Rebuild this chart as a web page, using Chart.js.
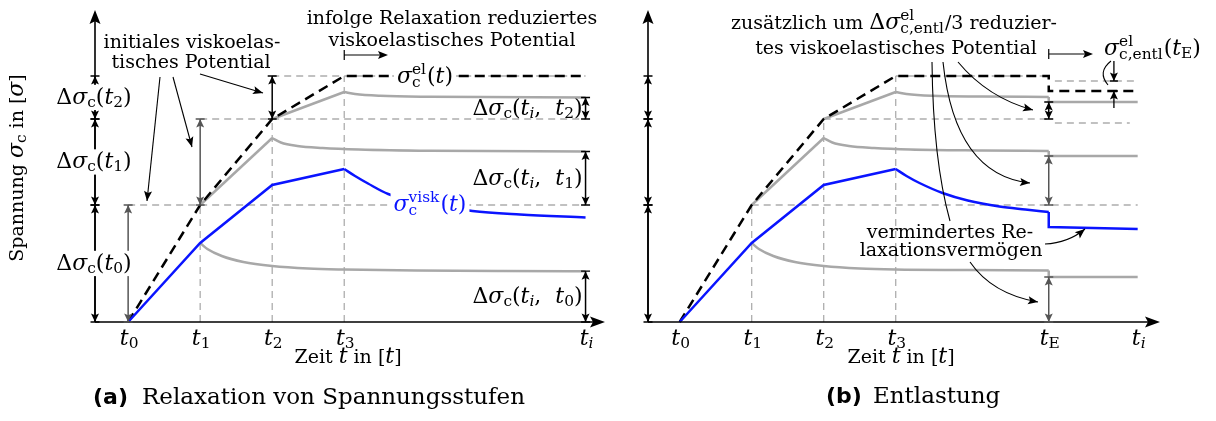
<!DOCTYPE html>
<html lang="de">
<head>
<meta charset="utf-8">
<title>Relaxation von Spannungsstufen / Entlastung</title>
<script src="https://cdn.jsdelivr.net/npm/chart.js@4.4.1/dist/chart.umd.min.js"></script>
<style>
  body { margin: 0; background: #fff; }
  #wrap { position: relative; width: 1216px; height: 421px; }
  #wrap canvas { position: absolute; left: 0; top: 0; }
</style>
</head>
<body>
<div id="wrap">
  <canvas id="relax" width="1216" height="421"></canvas>
  <canvas id="unload" width="1216" height="421"></canvas>
</div>
<script>
// ---- data ---------------------------------------------------------------
// time: t0 = 0, one unit per load step
const stepTimes = [0, 1, 2, 3];
const tEndA = 6.35;          // t_i in (a)
const tUnload = 5.125;       // t_E in (b)
const tEndB = 6.36;          // t_i in (b)
const tickLabelsA = ['0', '1', '2', '3', 'i'];
const tickLabelsB = ['0', '1', '2', '3', 'E', 'i'];

// stress at the step times
const elasticSteps = [0, 11.7, 20.3, 24.6];   // sigma_c^el
const viscSteps = [0, 7.9, 13.7, 15.3];       // sigma_c^visk

// (a) relaxation after the last step
const viscDecayA = [[3, 15.3], [3.15, 14.6], [3.33, 13.85], [3.61, 12.8], [4.1, 11.9], [4.78, 11.1], [5.44, 10.75], [6.35, 10.45]];
// (a) relaxation of the single stress steps
const relaxA1 = [[1, 7.9], [1.1, 7.3], [1.3, 6.6], [1.6, 6.0], [2, 5.6], [2.5, 5.35], [3, 5.25], [4, 5.15], [5.2, 5.1], [6.35, 5.08]];
const relaxRiseA2 = [[1, 11.7], [2, 18.4]];
const relaxA2 = [[2, 18.4], [2.12, 17.95], [2.35, 17.6], [2.7, 17.4], [3.2, 17.25], [4.2, 17.12], [6.35, 17.05]];
const relaxRiseA3 = [[2, 20.3], [3, 23.0]];
const relaxA3 = [[3, 23.0], [3.15, 22.8], [3.5, 22.62], [4.2, 22.52], [6.35, 22.45]];
const relaxedA = [5.08, 17.05, 22.45];        // levels at t_i

// (b) unloading at t_E
const viscDecayB = [[3, 15.3], [3.15, 14.6], [3.33, 13.9], [3.65, 12.9], [4.0, 12.15], [4.44, 11.55], [4.8, 11.25], [5.125, 11.0]];
const viscStepB = [[5.125, 11.0], [5.125, 9.5], [6.36, 9.3]];
const relaxB1 = [[1, 7.9], [1.1, 7.3], [1.3, 6.6], [1.6, 6.0], [2, 5.6], [2.5, 5.35], [3, 5.25], [4, 5.2], [5.125, 5.15]];
const relaxStepB1 = [[5.125, 5.15], [5.125, 4.5], [6.36, 4.5]];
const relaxRiseB2 = [[1, 11.7], [2, 18.4]];
const relaxB2 = [[2, 18.4], [2.12, 17.95], [2.35, 17.6], [2.7, 17.4], [3.2, 17.25], [4.2, 17.15], [5.125, 17.1]];
const relaxStepB2 = [[5.125, 17.1], [5.125, 16.6], [6.36, 16.6]];
const relaxRiseB3 = [[2, 20.3], [3, 23.0]];
const relaxB3 = [[3, 23.0], [3.15, 22.8], [3.5, 22.62], [4.2, 22.55], [5.125, 22.5]];
const relaxStepB3 = [[5.125, 22.5], [5.125, 22.0], [6.36, 22.0]];
const unloadedB = [4.5, 16.6, 22.0];          // levels right after t_E
const elasticAfterUnload = 23.1;
const entlLevels = [24.1, 19.9];              // reduced potential after t_E
const entlEnds = [6.36, 6.25];
const entlMarkTime = 6.03;

const Y_TOP = 31.2;
const xRangeA = [-0.46, 6.62];
const xRangeB = [-0.44, 6.67];

// ---- styles ---------------------------------------------------------------
const FS = 19;        // text size
const MS = 22;        // formula size
const SERIF = '"DejaVu Serif"';
const INK = '#000';
const DIM_GREY = '#555';
const BLUE = '#0a14ff';
const GREY = '#a8a8a8';
const GUIDE = '#adadad';

const pts = arr => arr.map(([x, y]) => ({ x, y }));

function curve(points, color, width, smooth = false, dash = []) {
  return {
    data: pts(points), borderColor: color, borderWidth: width, borderDash: dash,
    pointRadius: 0, fill: false, clip: false,
    tension: smooth ? 0.4 : 0,
    cubicInterpolationMode: smooth ? 'monotone' : 'default'
  };
}

// ---- text with formulas ---------------------------------------------------------
// kinds: r = text, m = upright formula, i = italic formula,
// sb/sbi = subscript (upright/italic), sp = superscript, st = stacked "sup|sub"
function tokenFont(kind, size, msize) {
  let s = msize;
  if (kind === 'r') s = size;
  else if (kind !== 'm' && kind !== 'i') s = msize * 0.7;
  const it = (kind === 'i' || kind === 'sbi') ? 'italic ' : '';
  return `${it}${s}px ${SERIF}`;
}
function tokenWidth(ctx, [text, kind], size, msize) {
  ctx.font = tokenFont(kind, size, msize);
  if (kind === 'st') {
    const [up, down] = text.split('|');
    return Math.max(ctx.measureText(up).width, ctx.measureText(down).width) + 1;
  }
  return ctx.measureText(text).width;
}
function drawRich(ctx, toks, x, y, opt = {}) {
  const size = opt.size || FS, msize = opt.math || MS;
  const widths = toks.map(t => tokenWidth(ctx, t, size, msize));
  const total = widths.reduce((a, b) => a + b, 0);
  let cx = opt.align === 'left' ? x : opt.align === 'right' ? x - total : x - total / 2;
  if (opt.bg) {
    ctx.fillStyle = '#fff';
    ctx.fillRect(cx - 3, y - msize * 0.85, total + 6, msize * 1.15);
  }
  ctx.fillStyle = opt.color || INK;
  ctx.textAlign = 'left';
  ctx.textBaseline = 'alphabetic';
  toks.forEach(([text, kind], i) => {
    ctx.font = tokenFont(kind, size, msize);
    if (kind === 'st') {
      const [up, down] = text.split('|');
      ctx.fillText(up, cx, y - msize * 0.4);
      ctx.fillText(down, cx, y + msize * 0.2);
    } else if (kind === 'sb' || kind === 'sbi') {
      ctx.fillText(text, cx, y + msize * 0.15);
    } else if (kind === 'sp') {
      ctx.fillText(text, cx, y - msize * 0.4);
    } else {
      ctx.fillText(text, cx, y);
    }
    cx += widths[i];
  });
}
const plain = s => [[s, 'r']];
const deltaStep = k => [['Δ', 'm'], ['σ', 'i'], ['c', 'sb'], ['(', 'm'], ['t', 'i'], [k, 'sb'], [')', 'm']];
const deltaRelax = k => [['Δ', 'm'], ['σ', 'i'], ['c', 'sb'], ['(', 'm'], ['t', 'i'], ['i', 'sbi'], [',  ', 'm'], ['t', 'i'], [k, 'sb'], [')', 'm']];
const tickTok = s => [['t', 'i'], [s, s === 'i' ? 'sbi' : 'sb']];

// ---- arrows -------------------------------------------------------------------
function arrowHead(ctx, x, y, ang, len = 8.5, hw = 4) {
  const c = Math.cos(ang), s = Math.sin(ang);
  ctx.beginPath();
  ctx.moveTo(x, y);
  ctx.lineTo(x - len * c + hw * s, y - len * s - hw * c);
  ctx.lineTo(x - len * c * 0.8, y - len * s * 0.8);
  ctx.lineTo(x - len * c - hw * s, y - len * s + hw * c);
  ctx.closePath();
  ctx.fill();
}
function dimLine(ctx, x, ya, yb, color) {
  ctx.strokeStyle = color; ctx.fillStyle = color; ctx.lineWidth = 1.5;
  ctx.setLineDash([]);
  ctx.beginPath(); ctx.moveTo(x, ya); ctx.lineTo(x, yb); ctx.stroke();
  arrowHead(ctx, x, ya, Math.atan2(ya - yb, 0));
  arrowHead(ctx, x, yb, Math.atan2(yb - ya, 0));
  ctx.lineWidth = 1.3;
  ctx.beginPath();
  ctx.moveTo(x - 4.5, ya); ctx.lineTo(x + 4.5, ya);
  ctx.moveTo(x - 4.5, yb); ctx.lineTo(x + 4.5, yb);
  ctx.stroke();
}
function pointer(ctx, x1, y1, x2, y2, head = true) {
  ctx.strokeStyle = INK; ctx.fillStyle = INK; ctx.lineWidth = 1.1; ctx.setLineDash([]);
  ctx.beginPath(); ctx.moveTo(x1, y1); ctx.lineTo(x2, y2); ctx.stroke();
  if (head) arrowHead(ctx, x2, y2, Math.atan2(y2 - y1, x2 - x1), 10, 4);
}
function bentPointer(ctx, x1, y1, cx, cy, x2, y2, head = true) {
  ctx.strokeStyle = INK; ctx.fillStyle = INK; ctx.lineWidth = 1.1; ctx.setLineDash([]);
  ctx.beginPath(); ctx.moveTo(x1, y1); ctx.quadraticCurveTo(cx, cy, x2, y2); ctx.stroke();
  if (head) arrowHead(ctx, x2, y2, Math.atan2(y2 - cy, x2 - cx), 10, 4);
}
function barArrow(ctx, x1, x2, y) {
  ctx.strokeStyle = INK; ctx.fillStyle = INK; ctx.lineWidth = 1.2; ctx.setLineDash([]);
  ctx.beginPath();
  ctx.moveTo(x1, y - 5); ctx.lineTo(x1, y + 5);
  ctx.moveTo(x1, y); ctx.lineTo(x2 - 4, y);
  ctx.stroke();
  arrowHead(ctx, x2, y, 0, 10, 4);
}
function drawAxes(chart) {
  const ctx = chart.ctx, a = chart.chartArea;
  ctx.strokeStyle = INK; ctx.fillStyle = INK; ctx.lineWidth = 1.6; ctx.setLineDash([]);
  ctx.beginPath();
  ctx.moveTo(a.left, a.bottom); ctx.lineTo(a.left, a.top + 8);
  ctx.moveTo(a.left, a.bottom); ctx.lineTo(a.right - 8, a.bottom);
  ctx.stroke();
  arrowHead(ctx, a.left, a.top, -Math.PI / 2, 14, 5.5);
  arrowHead(ctx, a.right, a.bottom, 0, 15, 5.5);
}
function drawStressAxisSteps(chart) {
  const ctx = chart.ctx, Y = v => chart.scales.y.getPixelForValue(v);
  for (let k = 1; k < elasticSteps.length; k++) {
    dimLine(ctx, chart.chartArea.left, Y(elasticSteps[k - 1]), Y(elasticSteps[k]), INK);
  }
}

function baseOptions(range, padLeft, padRight, notes) {
  return {
    type: 'line',
    options: {
      responsive: false, animation: false, devicePixelRatio: 1,
      layout: { padding: { left: padLeft, right: padRight, top: 10, bottom: 99 } },
      plugins: { legend: { display: false }, tooltip: { enabled: false } },
      scales: {
        x: { type: 'linear', display: false, min: range[0], max: range[1] },
        y: { type: 'linear', display: false, min: 0, max: Y_TOP }
      }
    },
    plugins: [notes]
  };
}

// ---- (a) Relaxation von Spannungsstufen ----------------------------------------
const elasticA = stepTimes.map((t, i) => [t, elasticSteps[i]]).concat([[tEndA, elasticSteps[3]]]);
const viscRise = stepTimes.map((t, i) => [t, viscSteps[i]]);
const guidesA = [
  ...elasticSteps.slice(1).map((v, k) => [[stepTimes[k], v], [tEndA, v]]),
  ...stepTimes.slice(1).map((t, k) => [[t, 0], [t, elasticSteps[k + 1]]])
];

const relaxNotes = {
  id: 'relaxNotes',
  afterDatasetsDraw(chart) {
    const ctx = chart.ctx;
    const X = v => chart.scales.x.getPixelForValue(v), Y = v => chart.scales.y.getPixelForValue(v);
    ctx.save();
    drawAxes(chart);
    drawStressAxisSteps(chart);
    dimLine(ctx, X(stepTimes[0]), Y(0), Y(elasticSteps[1]), DIM_GREY);
    dimLine(ctx, X(stepTimes[1]), Y(elasticSteps[1]), Y(elasticSteps[2]), DIM_GREY);
    dimLine(ctx, X(stepTimes[2]), Y(elasticSteps[2]), Y(elasticSteps[3]), INK);
    relaxedA.forEach((v, k) => dimLine(ctx, X(tEndA), Y(v), Y(elasticSteps[k]), INK));

    // step labels on the stress axis
    for (let k = 0; k < 3; k++) {
      const mid = (Y(elasticSteps[k]) + Y(elasticSteps[k + 1])) / 2;
      drawRich(ctx, deltaStep(String(k)), chart.chartArea.left - 1, mid + 6, { bg: true });
    }
    // remaining potential at t_i
    for (let k = 0; k < 3; k++) {
      const mid = (Y(relaxedA[k]) + Y(elasticSteps[k])) / 2;
      drawRich(ctx, deltaRelax(String(k)), X(tEndA) - 3, mid + 6.5, { align: 'right' });
    }
    drawRich(ctx, [['σ', 'i'], ['el|c', 'st'], ['(', 'm'], ['t', 'i'], [')', 'm']], 425, 83, { bg: true });
    drawRich(ctx, [['σ', 'i'], ['visk|c', 'st'], ['(', 'm'], ['t', 'i'], [')', 'm']], 430, 211, { bg: true, color: BLUE });

    drawRich(ctx, plain('initiales viskoelas-'), 192, 48);
    drawRich(ctx, plain('tisches Potential'), 191, 68);
    pointer(ctx, 160, 77, 147, 201);
    pointer(ctx, 173, 77, 192, 147);
    pointer(ctx, 200, 74, 263, 93);

    drawRich(ctx, plain('infolge Relaxation reduziertes'), 452, 24);
    drawRich(ctx, plain('viskoelastisches Potential'), 452, 46);
    barArrow(ctx, X(stepTimes[3]), 388, 55);

    stepTimes.concat([tEndA]).forEach((t, i) => drawRich(ctx, tickTok(tickLabelsA[i]), X(t) + 1, 345));
    drawRich(ctx, [['Zeit ', 'r'], ['t', 'i'], [' in [', 'r'], ['t', 'i'], [']', 'r']], 348, 363);
    ctx.save();
    ctx.translate(23, 168);
    ctx.rotate(-Math.PI / 2);
    drawRich(ctx, [['Spannung ', 'r'], ['σ', 'i'], ['c', 'sb'], [' in [', 'r'], ['σ', 'i'], [']', 'r']], 0, 0);
    ctx.restore();

    ctx.fillStyle = INK; ctx.textBaseline = 'alphabetic'; ctx.textAlign = 'left';
    ctx.font = 'bold 22px "DejaVu Sans"';
    ctx.fillText('(a)', 93, 404);
    ctx.font = `23px ${SERIF}`;
    ctx.fillText('Relaxation von Spannungsstufen', 142, 404);
    ctx.restore();
  }
};

const cfgA = baseOptions(xRangeA, 95, 611, relaxNotes);
cfgA.data = {
  datasets: [
    curve(viscRise, BLUE, 2.5),
    curve(viscDecayA, BLUE, 2.5, true),
    curve(elasticA, INK, 2.5, false, [10, 6]),
    curve(relaxA1, GREY, 2.5, true),
    curve(relaxRiseA2, GREY, 2.5), curve(relaxA2, GREY, 2.5, true),
    curve(relaxRiseA3, GREY, 2.5), curve(relaxA3, GREY, 2.5, true),
    ...guidesA.map(g => curve(g, GUIDE, 1.3, false, [7, 5]))
  ]
};
new Chart(document.getElementById('relax'), cfgA);

// ---- (b) Entlastung ---------------------------------------------------------------
const elasticB = stepTimes.map((t, i) => [t, elasticSteps[i]])
  .concat([[tUnload, elasticSteps[3]], [tUnload, elasticAfterUnload], [tEndB, elasticAfterUnload]]);
const guidesB = [
  ...elasticSteps.slice(1).map((v, k) => [[stepTimes[k + 1], v], [k === 0 ? tEndB : tUnload, v]]),
  ...stepTimes.slice(1).map((t, k) => [[t, 0], [t, elasticSteps[k + 1]]]),
  ...entlLevels.map((v, k) => [[5.21, v], [entlEnds[k], v]])
];

const unloadNotes = {
  id: 'unloadNotes',
  afterDatasetsDraw(chart) {
    const ctx = chart.ctx;
    const X = v => chart.scales.x.getPixelForValue(v), Y = v => chart.scales.y.getPixelForValue(v);
    ctx.save();
    drawAxes(chart);
    drawStressAxisSteps(chart);
    dimLine(ctx, X(tUnload), Y(unloadedB[2]), Y(elasticSteps[2]), INK);
    dimLine(ctx, X(tUnload), Y(unloadedB[1]), Y(elasticSteps[1]), DIM_GREY);
    dimLine(ctx, X(tUnload), Y(unloadedB[0]), Y(0), DIM_GREY);

    // reduction of the elastic stress at t_E
    const xm = X(entlMarkTime);
    ctx.strokeStyle = INK; ctx.fillStyle = INK; ctx.lineWidth = 1.3; ctx.setLineDash([]);
    ctx.beginPath();
    ctx.moveTo(xm, Y(entlLevels[0]) - 20); ctx.lineTo(xm, Y(entlLevels[0]));
    ctx.moveTo(xm, Y(elasticAfterUnload) + 17); ctx.lineTo(xm, Y(elasticAfterUnload));
    ctx.moveTo(xm - 4, Y(entlLevels[0])); ctx.lineTo(xm + 4, Y(entlLevels[0]));
    ctx.moveTo(xm - 4, Y(elasticAfterUnload)); ctx.lineTo(xm + 4, Y(elasticAfterUnload));
    ctx.stroke();
    arrowHead(ctx, xm, Y(entlLevels[0]), Math.PI / 2);
    arrowHead(ctx, xm, Y(elasticAfterUnload), -Math.PI / 2);

    drawRich(ctx, [['zusätzlich um ', 'r'], ['Δ', 'm'], ['σ', 'i'], ['el|c,entl', 'st'], ['/3 reduzier-', 'r']], 894, 29);
    drawRich(ctx, plain('tes viskoelastisches Potential'), 896, 54);
    barArrow(ctx, X(tUnload), 1093, 54);
    drawRich(ctx, [['σ', 'i'], ['el|c,entl', 'st'], ['(', 'm'], ['t', 'i'], ['E', 'sb'], [')', 'm']], 1104, 55, { align: 'left' });
    bentPointer(ctx, 1111, 61, 1097, 72, 1108, 85, false);

    bentPointer(ctx, 958, 62, 988, 98, 1033, 110);
    bentPointer(ctx, 943, 62, 955, 175, 1030, 183);
    bentPointer(ctx, 932, 62, 933, 160, 950, 221, false);

    drawRich(ctx, plain('vermindertes Re-'), 950, 238);
    drawRich(ctx, plain('laxationsvermögen'), 951, 256);
    bentPointer(ctx, 1045, 244, 1068, 243, 1085, 229);
    bentPointer(ctx, 970, 262, 992, 294, 1038, 302);

    stepTimes.concat([tUnload, tEndB]).forEach((t, i) => drawRich(ctx, tickTok(tickLabelsB[i]), X(t) + 1, 345));
    drawRich(ctx, [['Zeit ', 'r'], ['t', 'i'], [' in [', 'r'], ['t', 'i'], [']', 'r']], 901, 363);

    ctx.fillStyle = INK; ctx.textBaseline = 'alphabetic'; ctx.textAlign = 'left';
    ctx.font = 'bold 22px "DejaVu Sans"';
    ctx.fillText('(b)', 826, 403);
    ctx.font = `23px ${SERIF}`;
    ctx.fillText('Entlastung', 873, 403);
    ctx.restore();
  }
};

const cfgB = baseOptions(xRangeB, 648, 56, unloadNotes);
cfgB.data = {
  datasets: [
    curve(viscRise, BLUE, 2.5),
    curve(viscDecayB, BLUE, 2.5, true),
    curve(viscStepB, BLUE, 2.5),
    curve(elasticB, INK, 2.5, false, [10, 6]),
    curve(relaxB1, GREY, 2.5, true), curve(relaxStepB1, GREY, 2.5),
    curve(relaxRiseB2, GREY, 2.5), curve(relaxB2, GREY, 2.5, true), curve(relaxStepB2, GREY, 2.5),
    curve(relaxRiseB3, GREY, 2.5), curve(relaxB3, GREY, 2.5, true), curve(relaxStepB3, GREY, 2.5),
    ...guidesB.map(g => curve(g, GUIDE, 1.3, false, [7, 5]))
  ]
};
new Chart(document.getElementById('unload'), cfgB);
</script>
</body>
</html>
